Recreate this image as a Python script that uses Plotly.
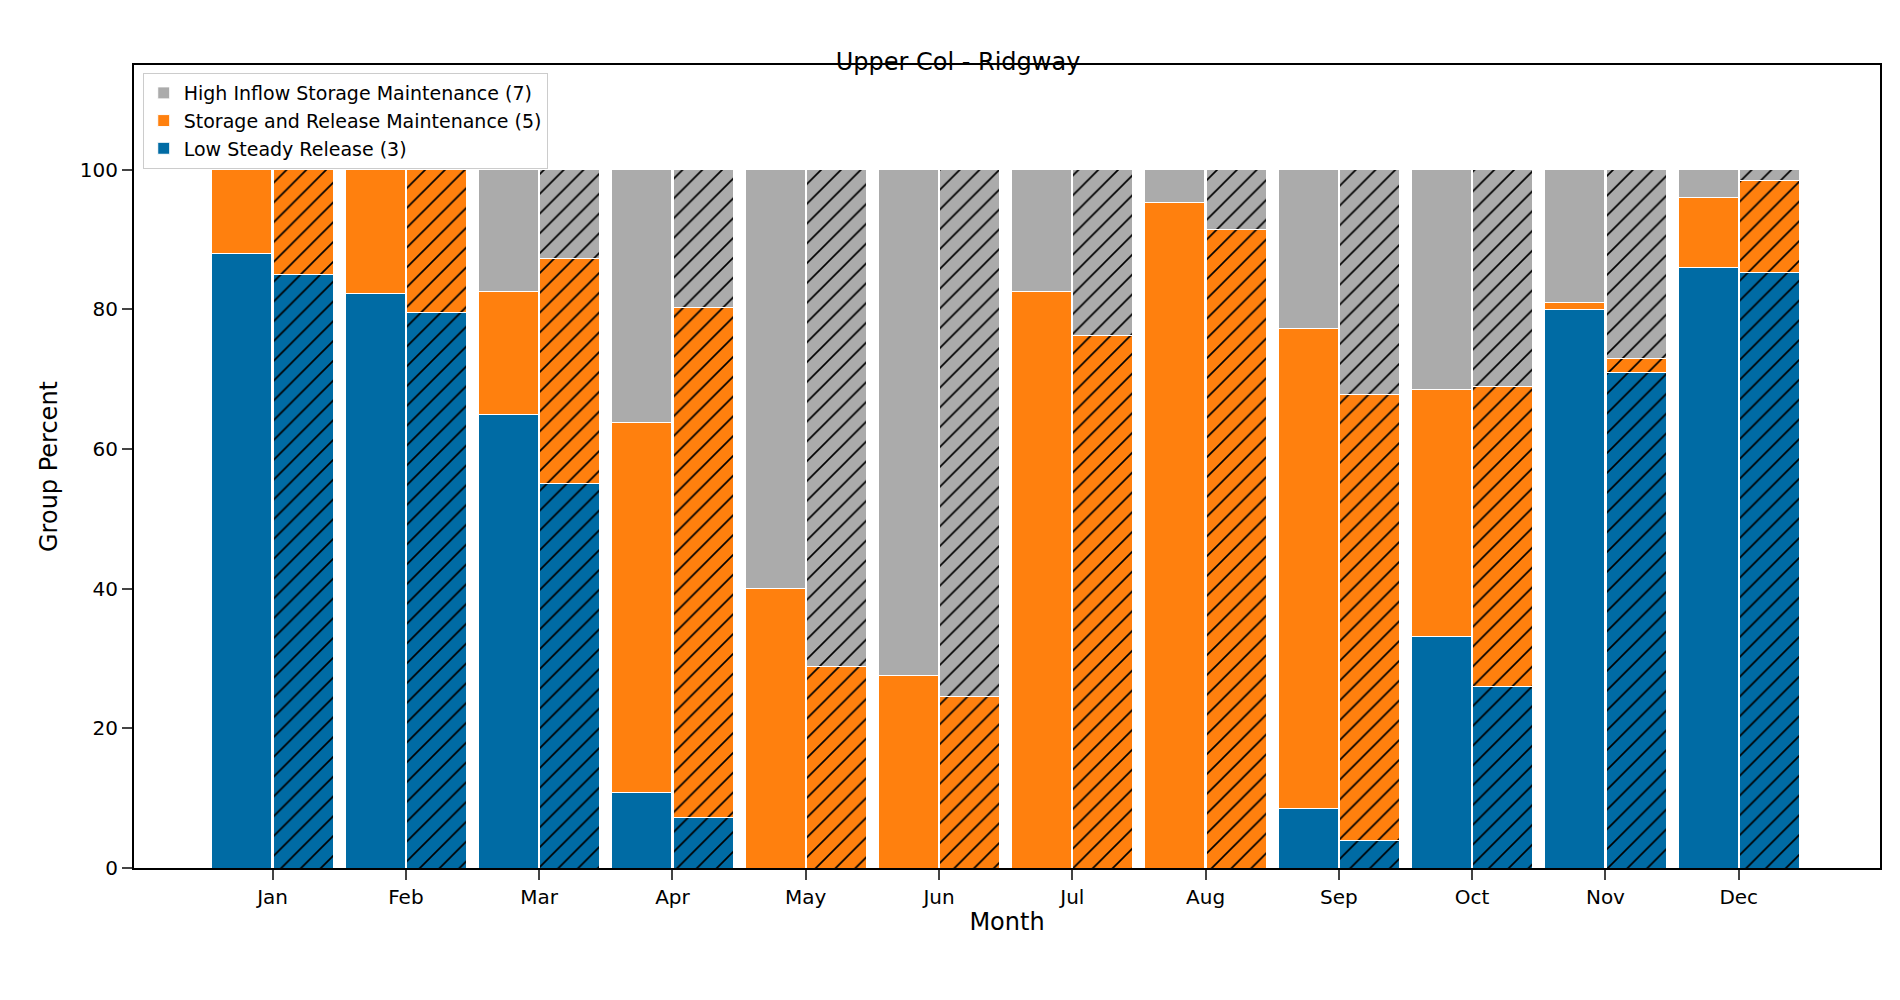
import numpy as np
import plotly.graph_objects as go

months = ["Jan", "Feb", "Mar", "Apr", "May", "Jun", "Jul", "Aug", "Sep", "Oct", "Nov", "Dec"]
names = ["Low Steady Release (3)", "Storage and Release Maintenance (5)", "High Inflow Storage Maintenance (7)"]
colors = ["#006ba4", "#ff800e", "#ababab"]

# solid bars
low_a = [88.0, 82.3, 65.0, 10.8, 0, 0, 0, 0, 8.5, 33.2, 80.0, 86.0]
mid_a = [12.0, 17.7, 17.5, 53.0, 40.0, 27.5, 82.5, 95.3, 68.8, 35.3, 1.0, 10.0]
# hatched bars
low_b = [85.0, 79.5, 55.0, 7.3, 0, 0, 0, 0, 4.0, 26.0, 71.0, 85.3]
mid_b = [15.0, 20.5, 32.3, 73.0, 28.8, 24.5, 76.3, 91.5, 63.8, 43.0, 2.0, 13.2]

high_a = [100 - a - b for a, b in zip(low_a, mid_a)]
high_b = [100 - a - b for a, b in zip(low_b, mid_b)]

idx = np.arange(len(months))
w = 0.45
fig = go.Figure()
for k, (vals, name) in enumerate(zip([low_a, mid_a, high_a], names)):
    fig.add_trace(go.Bar(x=idx - 0.23, y=vals, width=w, name=name,
                         marker=dict(color=colors[k], line=dict(color="white", width=1))))
for k, vals in enumerate([low_b, mid_b, high_b]):
    fig.add_trace(go.Bar(x=idx + 0.23, y=vals, width=w, showlegend=False,
                         marker=dict(color=colors[k], line=dict(color="white", width=1),
                                     pattern=dict(shape="/", fgcolor="black", bgcolor=colors[k],
                                                  size=14, solidity=0.12, fillmode="replace"))))

fig.update_layout(
    barmode="stack", width=1900, height=1000, plot_bgcolor="white", paper_bgcolor="white",
    font=dict(family="DejaVu Sans", size=20, color="black"),
    title=dict(text="Upper Col - Ridgway", x=0.5, y=0.955, xanchor="center", font=dict(size=24)),
    margin=dict(l=126, r=28, t=57, b=140),
    legend=dict(x=0.005, y=0.99, xanchor="left", yanchor="top", bordercolor="#cccccc",
                borderwidth=1, bgcolor="rgba(255,255,255,0.8)", font=dict(size=19)),
    xaxis=dict(tickmode="array", tickvals=idx, ticktext=months, range=[-1.04, 12.06],
               showline=True, linecolor="black", linewidth=2, mirror=True, ticks="outside",
               ticklen=10, tickwidth=2, title=dict(text="Month", font=dict(size=24), standoff=5)),
    yaxis=dict(range=[0, 115], tickvals=[0, 20, 40, 60, 80, 100], showgrid=False, zeroline=False,
               showline=True, linecolor="black", linewidth=2, mirror=True, ticks="outside",
               ticklen=10, tickwidth=2, title=dict(text="Group Percent", font=dict(size=24))),
)
fig.write_html("out.html")
